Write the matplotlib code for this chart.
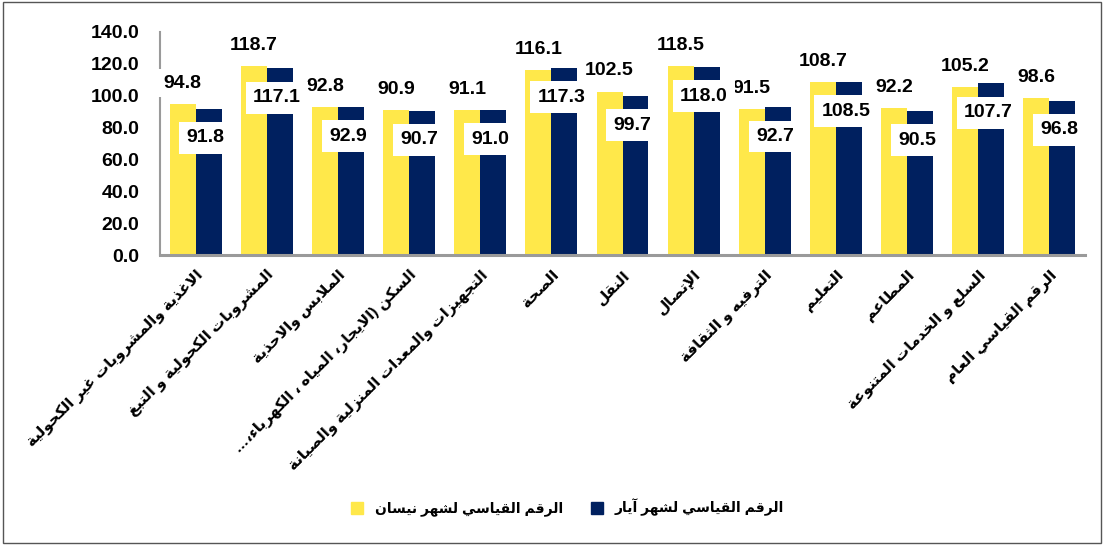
import matplotlib
matplotlib.use('Agg')
import matplotlib.pyplot as plt
import numpy as np
from matplotlib.patches import Rectangle, Patch

# ---------------- data ----------------
categories = [
    'الاغذية والمشروبات غير الكحولية',
    'المشروبات الكحولية و التبغ',
    'الملابس والاحذية',
    'السكن (الايجار، المياه ، الكهرباء،…',
    'التجهيزات والمعدات المنزلية والصيانة',
    'الصحة',
    'النقل',
    'الإتصال',
    'الترفيه و الثقافة',
    'التعليم',
    'المطاعم',
    'السلع و الخدمات المتنوعة',
    'الرقم القياسي العام',
]
april_values = [94.8, 118.7, 92.8, 90.9, 91.1, 116.1, 102.5, 118.5, 91.5, 108.7, 92.2, 105.2, 98.6]
may_values = [91.8, 117.1, 92.9, 90.7, 91.0, 117.3, 99.7, 118.0, 92.7, 108.5, 90.5, 107.7, 96.8]
series_names = ['الرقم القياسي لشهر نيسان', 'الرقم القياسي لشهر آيار']
y_ticks = [0, 20, 40, 60, 80, 100, 120, 140]

# ---------------- Arabic shaping (presentation forms + RTL order) ----------------
_DUAL = {}
_RIGHT = {}
for ch, base in [('ئ', 0xFE89), ('ب', 0xFE8F), ('ت', 0xFE95), ('ث', 0xFE99), ('ج', 0xFE9D),
                 ('ح', 0xFEA1), ('خ', 0xFEA5), ('س', 0xFEB1), ('ش', 0xFEB5), ('ص', 0xFEB9),
                 ('ض', 0xFEBD), ('ط', 0xFEC1), ('ظ', 0xFEC5), ('ع', 0xFEC9), ('غ', 0xFECD),
                 ('ف', 0xFED1), ('ق', 0xFED5), ('ك', 0xFED9), ('ل', 0xFEDD), ('م', 0xFEE1),
                 ('ن', 0xFEE5), ('ه', 0xFEE9), ('ي', 0xFEF1)]:
    _DUAL[ch] = [chr(base + i) for i in range(4)]  # iso, fin, ini, med
for ch, base in [('آ', 0xFE81), ('أ', 0xFE83), ('ؤ', 0xFE85), ('إ', 0xFE87), ('ا', 0xFE8D),
                 ('ة', 0xFE93), ('د', 0xFEA9), ('ذ', 0xFEAB), ('ر', 0xFEAD), ('ز', 0xFEAF),
                 ('و', 0xFEED), ('ى', 0xFEEF)]:
    _RIGHT[ch] = [chr(base), chr(base + 1)]
_LAMALEF = {'آ': 0xFEF5, 'أ': 0xFEF7, 'إ': 0xFEF9, 'ا': 0xFEFB}
_MIRROR = {'(': ')', ')': '(', '[': ']', ']': '['}


def shape(text):
    tokens = []
    i = 0
    while i < len(text):
        c = text[i]
        if c == 'ل' and i + 1 < len(text) and text[i + 1] in _LAMALEF:
            tokens.append(('LA', text[i + 1]))
            i += 2
        else:
            tokens.append(('C', c))
            i += 1

    def joins_left(tok):
        return tok[0] == 'C' and tok[1] in _DUAL

    def joinable(tok):
        return tok[0] == 'LA' or tok[1] in _DUAL or tok[1] in _RIGHT

    out = []
    for k, tok in enumerate(tokens):
        prev_j = k > 0 and joins_left(tokens[k - 1]) and joinable(tok)
        next_j = k + 1 < len(tokens) and joins_left(tok) and joinable(tokens[k + 1])
        if tok[0] == 'LA':
            base = _LAMALEF[tok[1]]
            out.append(chr(base + (1 if prev_j else 0)))
        elif tok[1] in _DUAL:
            f = _DUAL[tok[1]]
            if prev_j and next_j:
                out.append(f[3])
            elif prev_j:
                out.append(f[1])
            elif next_j:
                out.append(f[2])
            else:
                out.append(f[0])
        elif tok[1] in _RIGHT:
            f = _RIGHT[tok[1]]
            out.append(f[1] if prev_j else f[0])
        else:
            out.append(tok[1])
    return ''.join(_MIRROR.get(c, c) for c in reversed(out))


# ---------------- figure ----------------
plt.rcParams['font.family'] = ['Liberation Sans', 'DejaVu Sans']
plt.rcParams['font.weight'] = 'bold'

YELLOW = '#FFE84A'
NAVY = '#00205F'

fig = plt.figure(figsize=(11.08, 5.47), dpi=100)
ax = fig.add_axes([160 / 1108, 1 - 255 / 547, (1085 - 160) / 1108, (255 - 32) / 547])

x = np.arange(len(categories))
w = 0.365
ax.bar(x - w / 2, april_values, w, color=YELLOW, zorder=2)
ax.bar(x + w / 2, may_values, w, color=NAVY, zorder=2)

for xi, v in zip(x, april_values):
    ax.annotate(f'{v:.1f}', xy=(xi - w / 2, v), xytext=(0, 15), textcoords='offset points',
                ha='center', va='center', fontsize=14, fontweight='bold', family='Liberation Sans',
                bbox=dict(boxstyle='square,pad=0.3', fc='white', ec='none'), zorder=4)
for xi, v in zip(x, may_values):
    ax.annotate(f'{v:.1f}', xy=(xi + w / 2, v), xytext=(-2, -21), textcoords='offset points',
                ha='center', va='center', fontsize=14, fontweight='bold', family='Liberation Sans',
                bbox=dict(boxstyle='square,pad=0.38', fc='white', ec='none'), zorder=5)

ax.set_xlim(-0.5, len(categories) - 0.5)
ax.set_ylim(0, 140)
ax.set_yticks(y_ticks)
ax.set_yticklabels([f'{t:.1f}' for t in y_ticks], fontsize=14, fontweight='bold', family='Liberation Sans')
ax.tick_params(axis='y', length=0, pad=15)
ax.set_xticks(x)
ax.set_xticklabels([shape(c) for c in categories], rotation=45, ha='right', va='top',
                   rotation_mode='anchor', fontsize=11, fontweight='bold')
ax.tick_params(axis='x', length=0, pad=9)

for s in ['top', 'right']:
    ax.spines[s].set_visible(False)
ax.spines['left'].set_color('#9A9A9A')
ax.spines['left'].set_linewidth(1.5)
ax.spines['bottom'].set_color('#9A9A9A')
ax.spines['bottom'].set_linewidth(2.2)

handles = [Patch(color=YELLOW), Patch(color=NAVY)]
fig.legend(handles, [shape(n) for n in series_names], loc='center', bbox_to_anchor=(0.512, 0.072),
           ncol=2, frameon=False, handlelength=0.9, handleheight=0.9,
           columnspacing=2.0, handletextpad=0.8, prop={'weight': 'bold', 'size': 10})

fig.patches.append(Rectangle((3 / 1108, 4 / 547), 1098 / 1108, 541 / 547, transform=fig.transFigure,
                             fill=False, ec='#555555', lw=1.0))

fig.savefig('out.png', dpi=100)
